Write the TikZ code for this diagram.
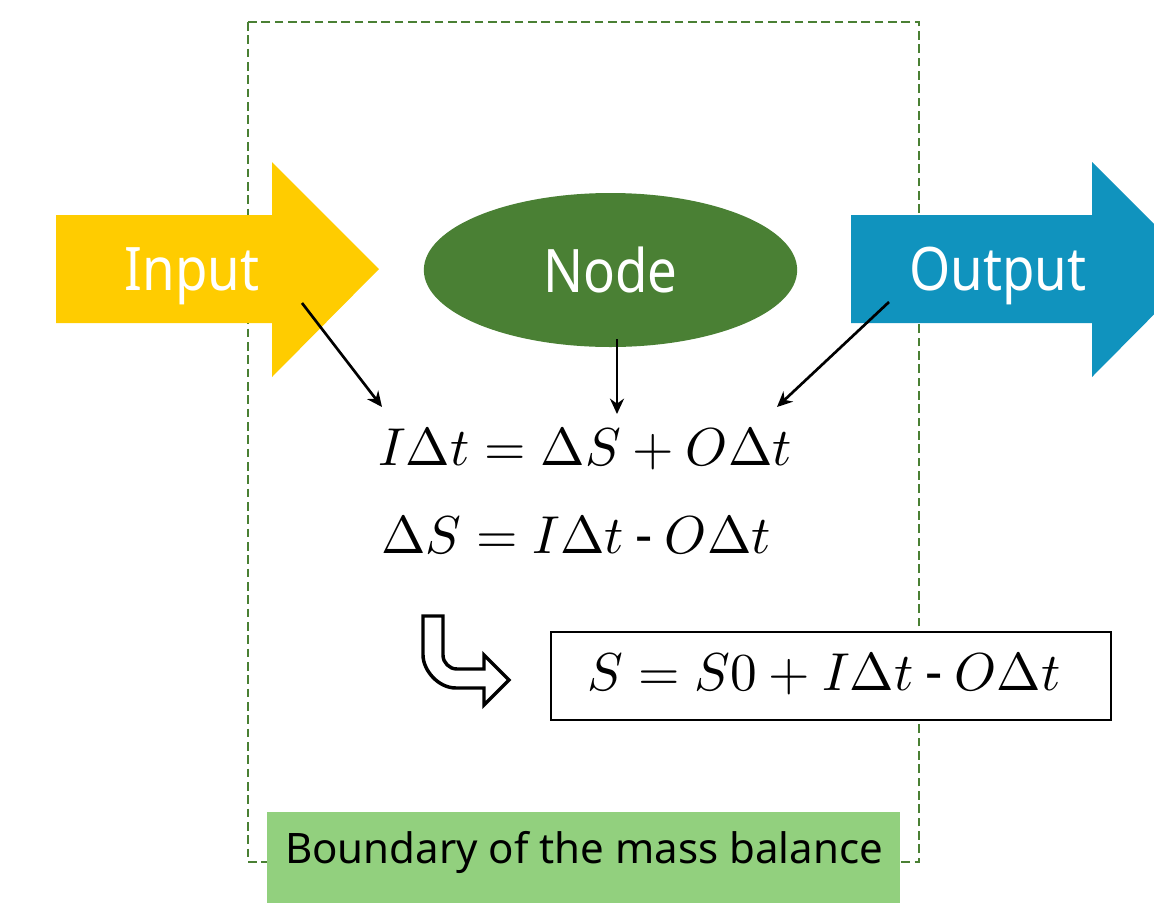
\documentclass[tikz,border=0pt]{standalone}
\usepackage[no-math]{fontspec}
\setmainfont{Noto Sans}
\newfontfamily\arrowfont[FakeStretch=0.88]{Noto Sans}
\DeclareFontShape{OT1}{cmr}{m}{n}{<->cmr10}{}
\DeclareFontShape{OML}{cmm}{m}{it}{<->cmmi10}{}
\DeclareFontShape{OMS}{cmsy}{m}{n}{<->cmsy10}{}
\DeclareFontShape{OMX}{cmex}{m}{n}{<->cmex10}{}
\usetikzlibrary{arrows.meta,shapes.geometric}
\definecolor{inyellow}{HTML}{FFCC00}
\definecolor{outblue}{HTML}{1093BE}
\definecolor{nodegreen}{HTML}{4A8034}
\definecolor{labelgreen}{HTML}{92D07E}
\begin{document}
\begin{tikzpicture}[x=0.75pt,y=-0.75pt,>={Stealth[length=11.5pt,width=10.5pt]},
  lbl/.style={text=white,font=\arrowfont\fontsize{45}{54}\selectfont},
  eq/.style={inner sep=0pt,font=\fontsize{40}{48}\selectfont},
  ptr/.style={->,line width=2pt}]
\useasboundingbox (0,0) rectangle (1154,904);
\clip (0,0) rectangle (1154,904);

% boundary of the balance
\draw[nodegreen,line width=1.8pt,dash pattern=on 6.5pt off 3.5pt] (248,22) rectangle (919,862);

% flows in and out
\fill[inyellow] (56,215) -- (272,215) -- (272,162) -- (379,269) -- (272,377) -- (272,323) -- (56,323) -- cycle;
\fill[outblue] (851,215) -- (1092,215) -- (1092,162) -- (1199,269) -- (1092,377) -- (1092,323) -- (851,323) -- cycle;
\node[lbl,anchor=base] (input) at (192,290) {Input};
\node[lbl,anchor=base] (output) at (998,290) {Output};
\node[ellipse,fill=nodegreen,inner sep=0pt,minimum width=280pt,minimum height=115.5pt,
  lbl] (node) at (610.5,270) {Node};

% balance equations
\node[eq,anchor=base] (eqa) at (585,465) {$I\Delta t = \Delta S + O\Delta t$};
\node[eq,anchor=base] (eqb) at (576,553) {$\Delta S = I\Delta t \mathbin{\mbox{-}} O\Delta t$};

\coordinate (inpt) at (302,303);
\coordinate (ndpt) at (617,339);
\coordinate (outpt) at (889,302);
\coordinate (eqin) at (382,407);
\coordinate (eqnd) at (617,414);
\coordinate (eqout) at (777,407);
\draw[ptr] (inpt) -- (eqin);
\draw[ptr] (ndpt) -- (eqnd);
\draw[ptr] (outpt) -- (eqout);

% bent arrow to the result
\draw[line width=2.6pt,fill=white,line join=miter] (423,616) -- (443,616) -- (443,655)
  .. controls (443,662.7) and (449.3,669) .. (457,669) -- (484,669) -- (484,655) -- (509,680)
  -- (484,705) -- (484,688) -- (456,688) .. controls (437.8,688) and (423,669.8) .. (423,655) -- cycle;
\draw[line width=1.8pt,fill=white] (551,632) rectangle (1111,720);
\node[eq,anchor=base] (result) at (824,690) {$S = S0 + I\Delta t \mathbin{\mbox{-}} O\Delta t$};

% label of the boundary
\fill[labelgreen] (267,812) rectangle (900,903);
\node[anchor=base,font=\fontsize{31.5}{38}\selectfont] (bound) at (584,863) {Boundary of the mass balance};
\end{tikzpicture}
\end{document}
